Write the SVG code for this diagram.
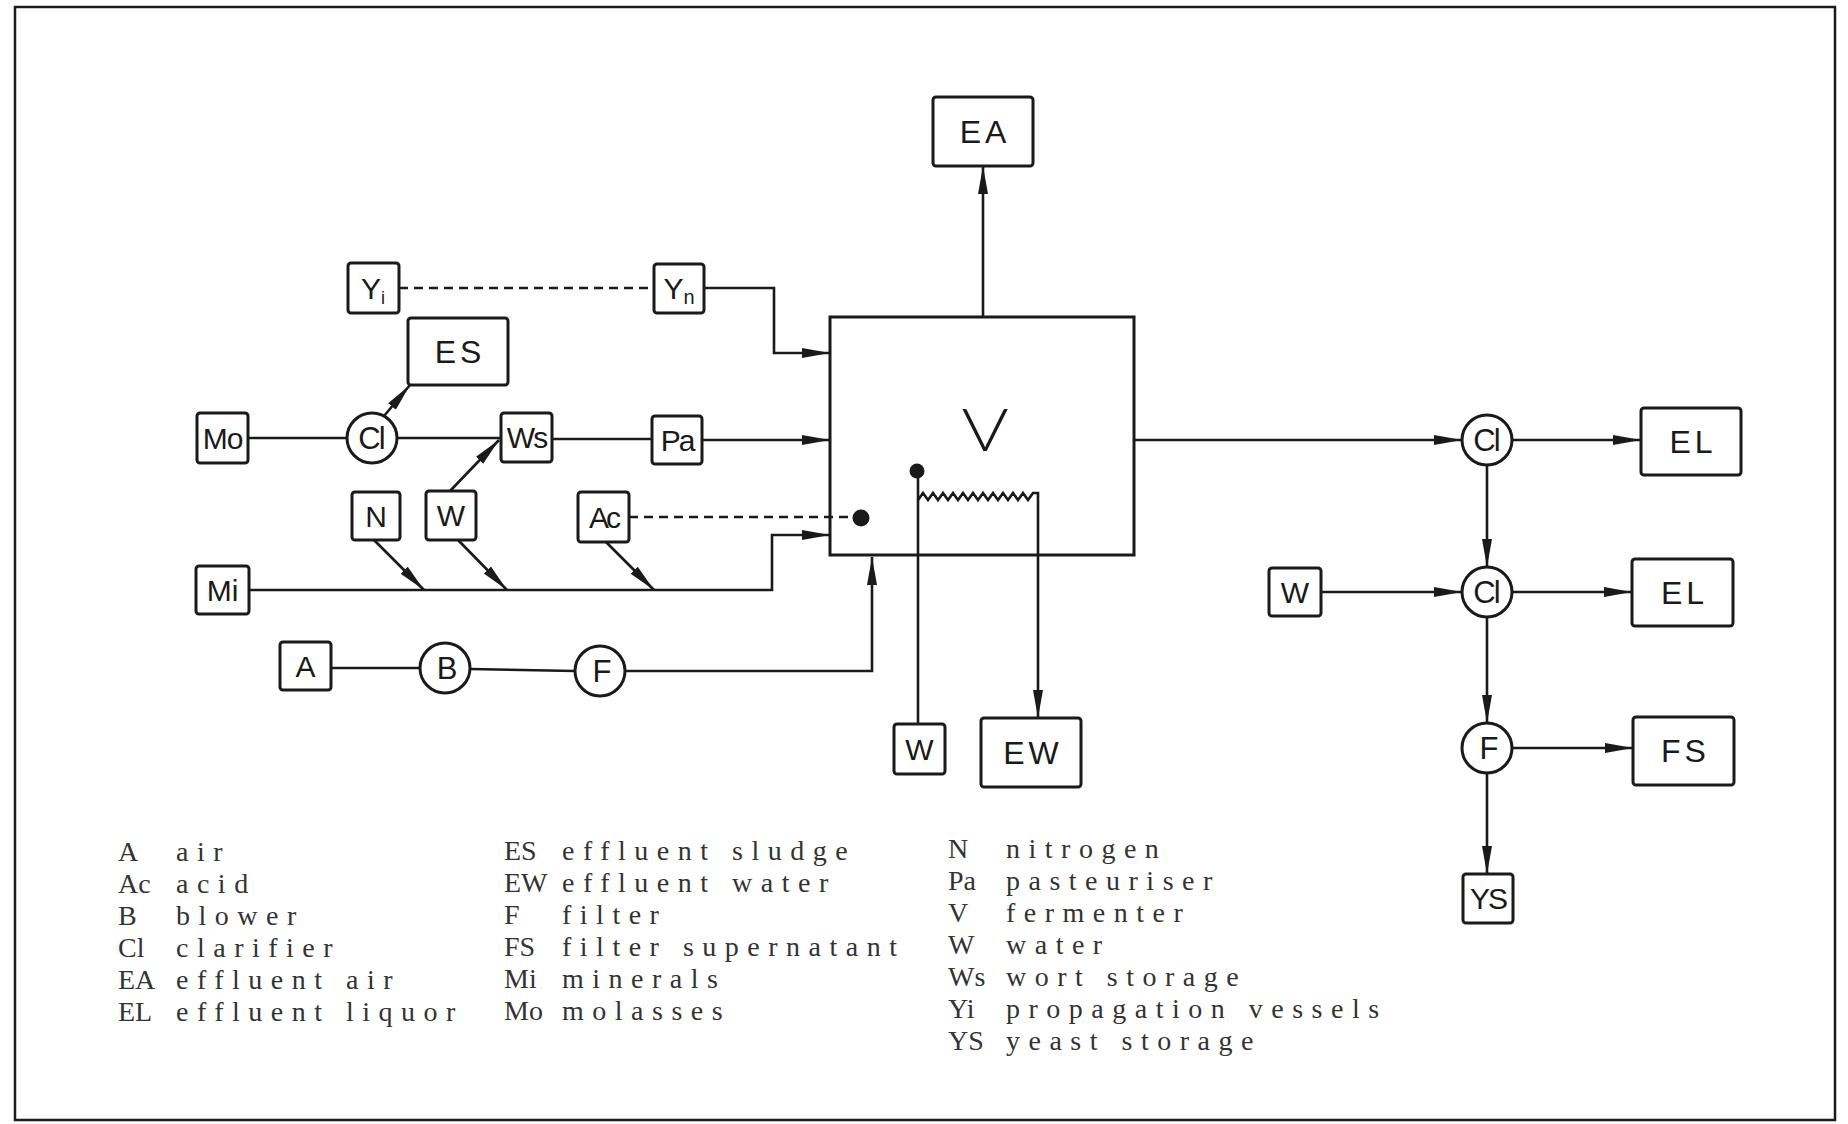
<svg xmlns="http://www.w3.org/2000/svg" width="1848" height="1124" viewBox="0 0 1848 1124">
<style>
.frame{fill:none;stroke:#1a1a1a;stroke-width:2.5}
.box{fill:#fff;stroke:#1a1a1a;stroke-width:3}
.ln{fill:none;stroke:#1a1a1a;stroke-width:2.6}
.dash{stroke-dasharray:9 6}
.lbl{font-family:"Liberation Sans",Arial,sans-serif;font-size:30px;fill:#1a1a1a;text-anchor:middle}
.big{font-size:32px;letter-spacing:4px}
.cir{font-size:31px;letter-spacing:-2px}
.vl{font-family:Lato,"Liberation Sans",sans-serif;font-weight:300;font-size:60px;fill:#1a1a1a;text-anchor:middle}
.leg{font-family:"Liberation Serif","Times New Roman",serif;font-size:28px;letter-spacing:8.5px;fill:#333}
.ab{letter-spacing:0px}
</style>
<defs>
<marker id="ah" markerUnits="userSpaceOnUse" markerWidth="28" markerHeight="12" viewBox="0 0 28 12" refX="28" refY="6" orient="auto">
<path d="M0,1 L28,6 L0,11 Z" fill="#1a1a1a"/>
</marker>
</defs>
<rect class="frame" x="15" y="7" width="1820" height="1113"/>

<g id="connectors">
<line class="ln" x1="983" y1="317" x2="983" y2="166" marker-end="url(#ah)"/>
<line class="ln dash" x1="399" y1="288" x2="654" y2="288"/>
<polyline class="ln" points="704,288 774,288 774,353 830,353" marker-end="url(#ah)"/>
<line class="ln" x1="248" y1="438" x2="347" y2="438"/>
<line class="ln" x1="384" y1="416" x2="410" y2="385" marker-end="url(#ah)"/>
<line class="ln" x1="397" y1="438" x2="501" y2="438"/>
<line class="ln" x1="552" y1="439" x2="652" y2="439"/>
<line class="ln" x1="702" y1="440" x2="830" y2="440" marker-end="url(#ah)"/>
<line class="ln" x1="450" y1="491" x2="499" y2="440" marker-end="url(#ah)"/>
<line class="ln dash" x1="629" y1="517" x2="853" y2="517"/>
<polyline class="ln" points="249,590 772,590 772,535 830,535" marker-end="url(#ah)"/>
<line class="ln" x1="374" y1="540" x2="424" y2="590" marker-end="url(#ah)"/>
<line class="ln" x1="458" y1="540" x2="507" y2="590" marker-end="url(#ah)"/>
<line class="ln" x1="606" y1="542" x2="654" y2="590" marker-end="url(#ah)"/>
<line class="ln" x1="331" y1="668" x2="420" y2="668"/>
<line class="ln" x1="470" y1="669" x2="575" y2="671"/>
<polyline class="ln" points="625,671 872,671 872,557" marker-end="url(#ah)"/>
<line class="ln" x1="918" y1="471" x2="918" y2="724"/>
<path class="ln" d="M918,500 L923,493 L928,500 L933,493 L938,500 L943,493 L948,500 L953,493 L958,500 L963,493 L968,500 L973,493 L978,500 L983,493 L988,500 L993,493 L998,500 L1003,493 L1008,500 L1013,493 L1018,500 L1023,493 L1028,500 L1033,493 L1038,493 L1038,718" marker-end="url(#ah)"/>
<line class="ln" x1="1134" y1="440" x2="1462" y2="440" marker-end="url(#ah)"/>
<line class="ln" x1="1512" y1="440" x2="1641" y2="440" marker-end="url(#ah)"/>
<line class="ln" x1="1487" y1="465" x2="1487" y2="567" marker-end="url(#ah)"/>
<line class="ln" x1="1321" y1="592" x2="1462" y2="592" marker-end="url(#ah)"/>
<line class="ln" x1="1512" y1="592" x2="1632" y2="592" marker-end="url(#ah)"/>
<line class="ln" x1="1487" y1="617" x2="1487" y2="723" marker-end="url(#ah)"/>
<line class="ln" x1="1512" y1="748" x2="1633" y2="748" marker-end="url(#ah)"/>
<line class="ln" x1="1487" y1="773" x2="1487" y2="874" marker-end="url(#ah)"/>
</g>

<g id="node-V"><rect x="830" y="317" width="304" height="238" fill="none" stroke="#1a1a1a" stroke-width="3"/><text class="vl" transform="translate(985 451) scale(1.2 1)">V</text>
<circle cx="917" cy="471" r="7.5" fill="#1a1a1a"/><circle cx="861" cy="518" r="8.5" fill="#1a1a1a"/></g>
<g id="node-EA"><rect class="box" x="933" y="97" width="100" height="69" rx="3"/><text class="lbl big" x="985" y="143">EA</text></g>
<g id="node-Yi"><rect class="box" x="348" y="263" width="51" height="50" rx="3"/><text class="lbl" x="373" y="299">Y<tspan font-size="18" dy="5">i</tspan></text></g>
<g id="node-Yn"><rect class="box" x="654" y="264" width="50" height="49" rx="3"/><text class="lbl" x="679" y="299">Y<tspan font-size="20" dy="5">n</tspan></text></g>
<g id="node-ES"><rect class="box" x="408" y="318" width="100" height="67" rx="3"/><text class="lbl big" x="460" y="363">ES</text></g>
<g id="node-Mo"><rect class="box" x="197" y="413" width="51" height="50" rx="3"/><text class="lbl" x="222.5" y="449" letter-spacing="-1">Mo</text></g>
<g id="node-Cl1"><circle class="box" cx="372" cy="438" r="25"/><text class="lbl cir" x="371" y="449">Cl</text></g>
<g id="node-Ws"><rect class="box" x="501" y="413" width="51" height="49" rx="3"/><text class="lbl" x="526.5" y="448" letter-spacing="-2">Ws</text></g>
<g id="node-Pa"><rect class="box" x="652" y="416" width="50" height="48" rx="3"/><text class="lbl" x="677" y="451" letter-spacing="-2">Pa</text></g>
<g id="node-N"><rect class="box" x="352" y="492" width="48" height="48" rx="3"/><text class="lbl" x="376" y="527">N</text></g>
<g id="node-W1"><rect class="box" x="426" y="491" width="50" height="49" rx="3"/><text class="lbl" x="451" y="526">W</text></g>
<g id="node-Ac"><rect class="box" x="578" y="492" width="51" height="50" rx="3"/><text class="lbl" x="603.5" y="528" letter-spacing="-3">Ac</text></g>
<g id="node-Mi"><rect class="box" x="196" y="566" width="53" height="48" rx="3"/><text class="lbl" x="222.5" y="601">Mi</text></g>
<g id="node-A"><rect class="box" x="280" y="642" width="51" height="48" rx="3"/><text class="lbl" x="305.5" y="677">A</text></g>
<g id="node-B"><circle class="box" cx="445" cy="668" r="25"/><text class="lbl cir" x="446" y="679">B</text></g>
<g id="node-F1"><circle class="box" cx="600" cy="671" r="25"/><text class="lbl cir" x="601" y="682">F</text></g>
<g id="node-W2"><rect class="box" x="894" y="724" width="51" height="50" rx="3"/><text class="lbl" x="919.5" y="760">W</text></g>
<g id="node-EW"><rect class="box" x="981" y="718" width="100" height="69" rx="3"/><text class="lbl big" x="1033" y="764">EW</text></g>
<g id="node-Cl2"><circle class="box" cx="1487" cy="440" r="25"/><text class="lbl cir" x="1486" y="451">Cl</text></g>
<g id="node-EL1"><rect class="box" x="1641" y="408" width="100" height="67" rx="3"/><text class="lbl big" x="1693" y="453">EL</text></g>
<g id="node-W3"><rect class="box" x="1269" y="568" width="52" height="48" rx="3"/><text class="lbl" x="1295" y="603">W</text></g>
<g id="node-Cl3"><circle class="box" cx="1487" cy="592" r="25"/><text class="lbl cir" x="1486" y="603">Cl</text></g>
<g id="node-EL2"><rect class="box" x="1632" y="559" width="101" height="67" rx="3"/><text class="lbl big" x="1684.5" y="604">EL</text></g>
<g id="node-F2"><circle class="box" cx="1487" cy="748" r="25"/><text class="lbl cir" x="1488" y="759">F</text></g>
<g id="node-FS"><rect class="box" x="1633" y="717" width="101" height="68" rx="3"/><text class="lbl big" x="1685.5" y="762">FS</text></g>
<g id="node-YS"><rect class="box" x="1463" y="874" width="50" height="49" rx="3"/><text class="lbl" x="1488" y="909" letter-spacing="-2">YS</text></g>

<g id="legend">
<text class="leg" y="861"><tspan class="ab" x="118">A</tspan><tspan x="176">air</tspan></text>
<text class="leg" y="893"><tspan class="ab" x="118">Ac</tspan><tspan x="176">acid</tspan></text>
<text class="leg" y="925"><tspan class="ab" x="118">B</tspan><tspan x="176">blower</tspan></text>
<text class="leg" y="957"><tspan class="ab" x="118">Cl</tspan><tspan x="176">clarifier</tspan></text>
<text class="leg" y="989"><tspan class="ab" x="118">EA</tspan><tspan x="176">effluent air</tspan></text>
<text class="leg" y="1021"><tspan class="ab" x="118">EL</tspan><tspan x="176">effluent liquor</tspan></text>
<text class="leg" y="860"><tspan class="ab" x="504">ES</tspan><tspan x="562">effluent sludge</tspan></text>
<text class="leg" y="892"><tspan class="ab" x="504">EW</tspan><tspan x="562">effluent water</tspan></text>
<text class="leg" y="924"><tspan class="ab" x="504">F</tspan><tspan x="562">filter</tspan></text>
<text class="leg" y="956"><tspan class="ab" x="504">FS</tspan><tspan x="562">filter supernatant</tspan></text>
<text class="leg" y="988"><tspan class="ab" x="504">Mi</tspan><tspan x="562">minerals</tspan></text>
<text class="leg" y="1020"><tspan class="ab" x="504">Mo</tspan><tspan x="562">molasses</tspan></text>
<text class="leg" y="858"><tspan class="ab" x="948">N</tspan><tspan x="1006">nitrogen</tspan></text>
<text class="leg" y="890"><tspan class="ab" x="948">Pa</tspan><tspan x="1006">pasteuriser</tspan></text>
<text class="leg" y="922"><tspan class="ab" x="948">V</tspan><tspan x="1006">fermenter</tspan></text>
<text class="leg" y="954"><tspan class="ab" x="948">W</tspan><tspan x="1006">water</tspan></text>
<text class="leg" y="986"><tspan class="ab" x="948">Ws</tspan><tspan x="1006">wort storage</tspan></text>
<text class="leg" y="1018"><tspan class="ab" x="948">Yi</tspan><tspan x="1006">propagation vessels</tspan></text>
<text class="leg" y="1050"><tspan class="ab" x="948">YS</tspan><tspan x="1006">yeast storage</tspan></text>
</g>
</svg>
